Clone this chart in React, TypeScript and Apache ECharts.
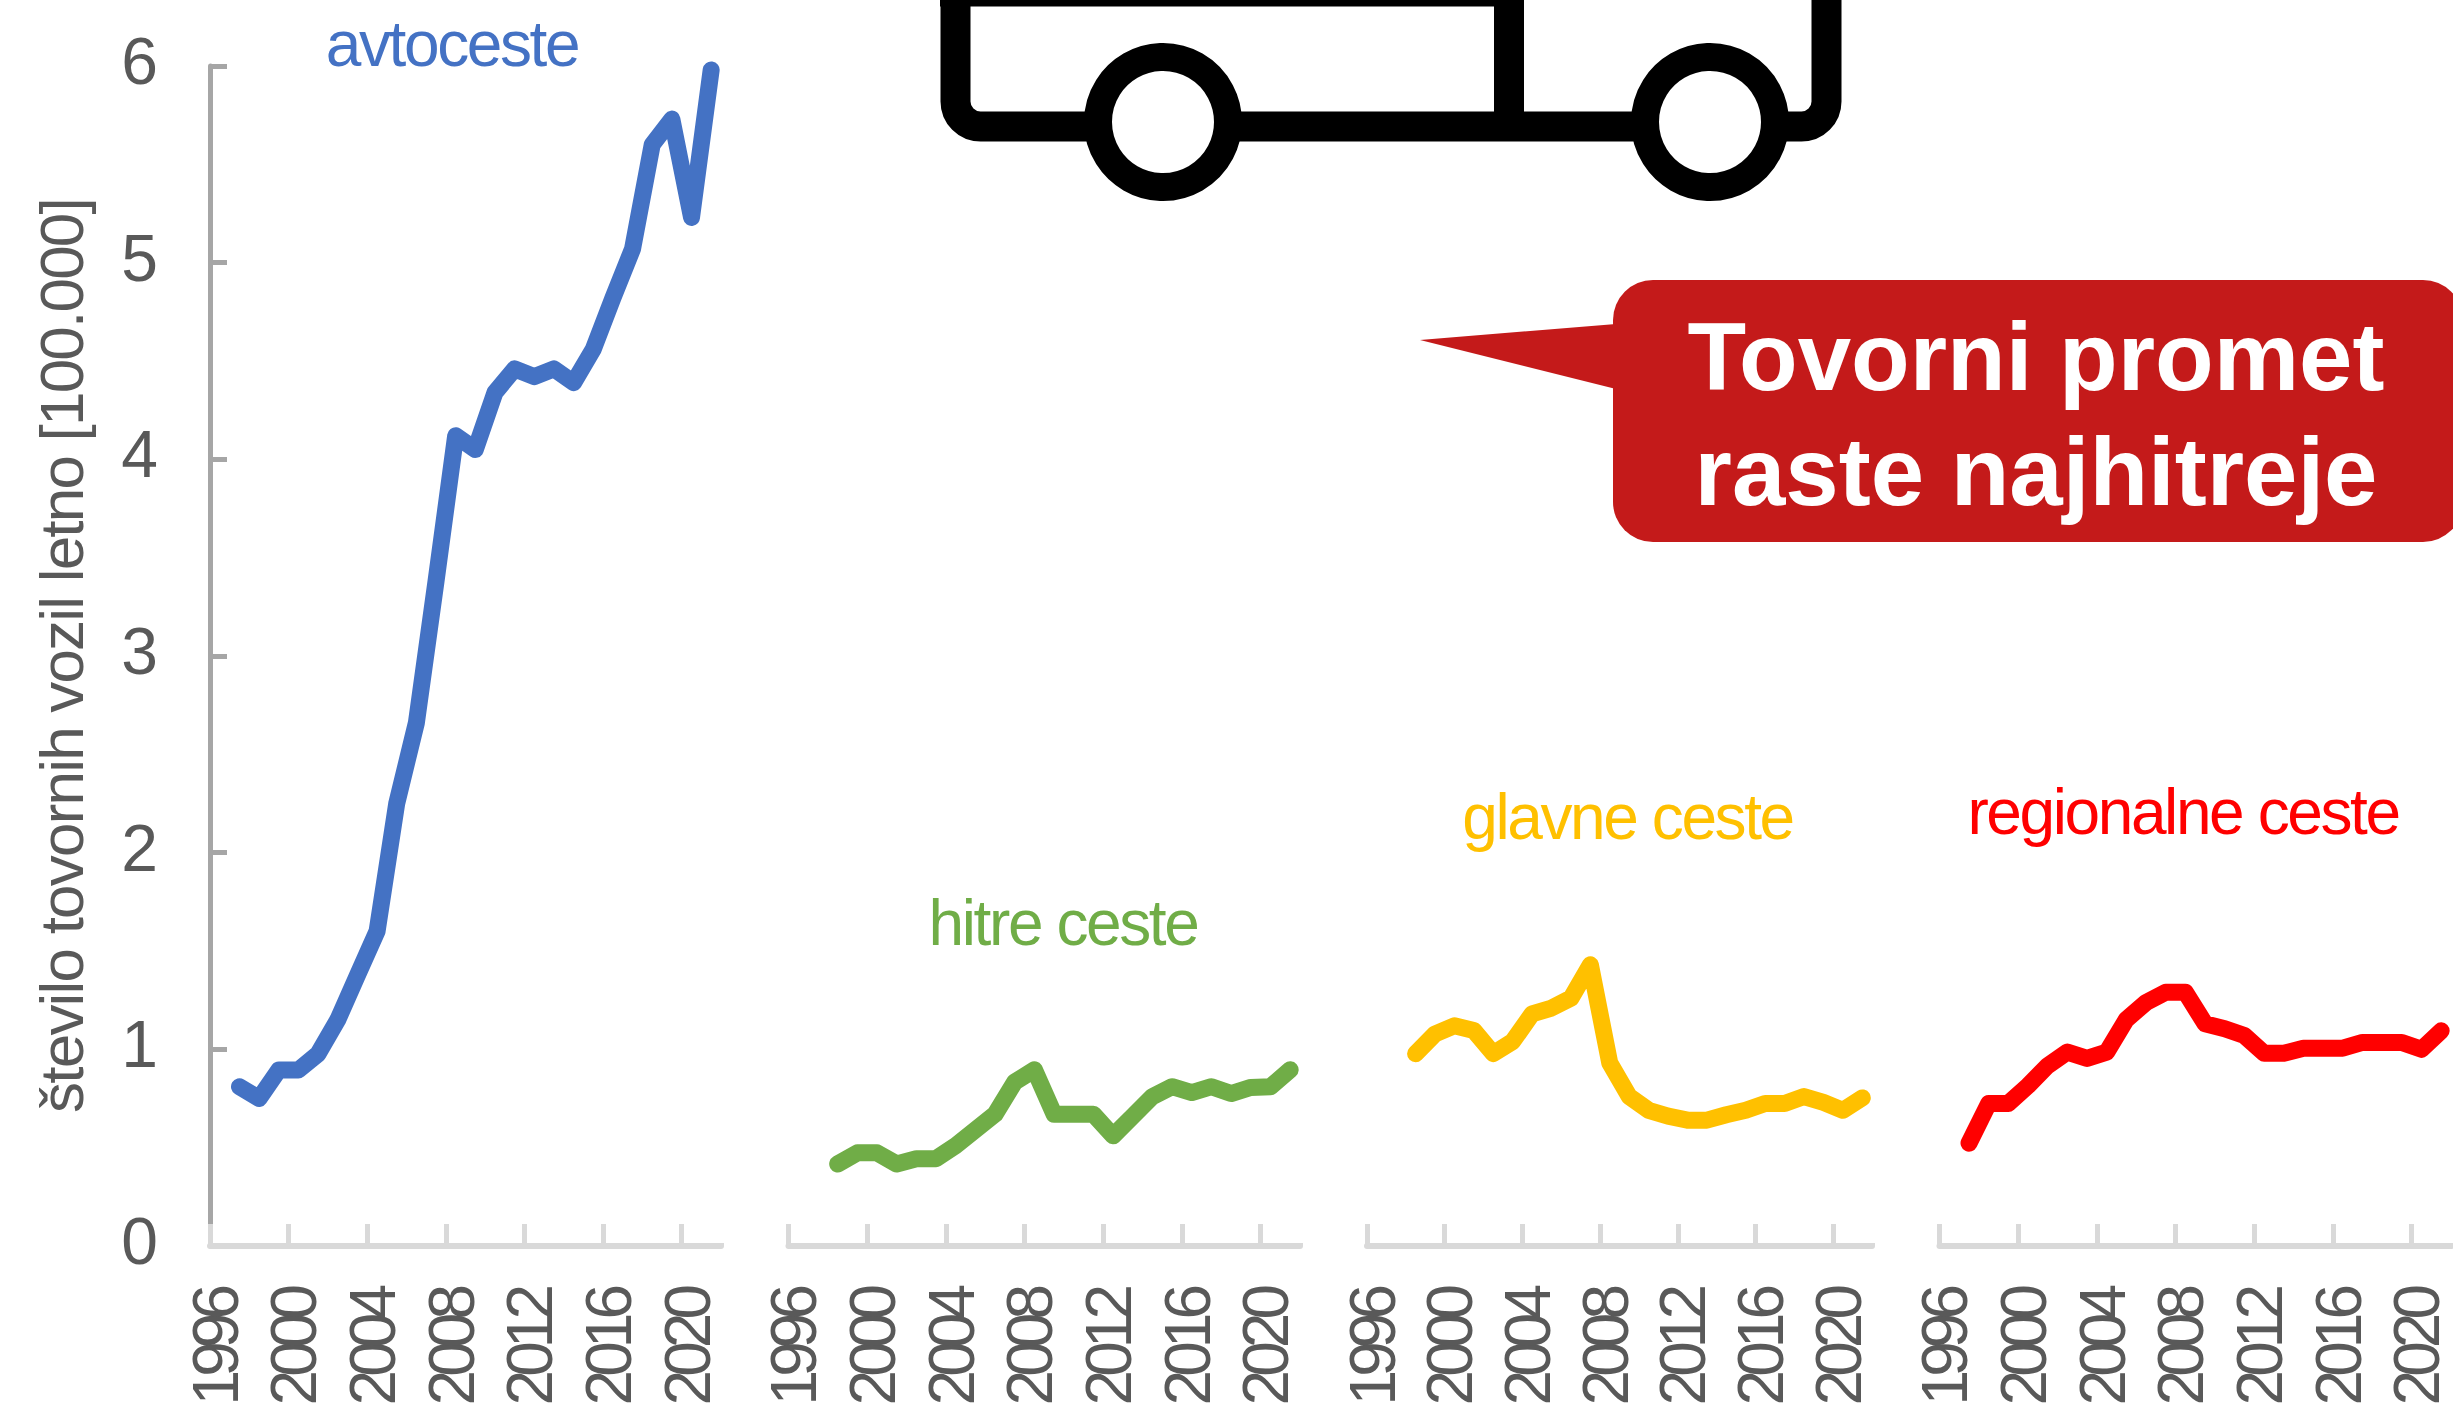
import React, { useEffect, useRef } from "react";
import * as echarts from "echarts";

const years = ["1996","1997","1998","1999","2000","2001","2002","2003","2004","2005","2006","2007","2008","2009","2010","2011","2012","2013","2014","2015","2016","2017","2018","2019","2020","2021"];
const yTicks = [0, 1, 2, 3, 4, 5, 6];
const yTitle = "število tovornih vozil letno [100.000]";

const avtoceste = [null,0.81,0.75,0.895,0.895,0.977,1.15,1.376,1.6,2.25,2.66,3.38,4.12,4.05,4.34,4.46,4.42,4.46,4.39,4.56,4.82,5.07,5.6,5.73,5.23,5.98];
const hitreCeste = [null,null,0.417,0.474,0.474,0.417,0.444,0.444,0.51,0.59,0.67,0.834,0.896,0.67,0.67,0.67,0.56,0.66,0.76,0.81,0.78,0.81,0.775,0.806,0.81,0.896];
const glavneCeste = [null,null,0.978,1.078,1.12,1.096,0.978,1.04,1.18,1.21,1.26,1.43,0.93,0.76,0.69,0.66,0.64,0.64,0.667,0.69,0.725,0.725,0.76,0.73,0.69,0.753];
const regionalneCeste = [null,0.523,0.725,0.725,0.815,0.917,0.986,0.954,0.986,1.152,1.238,1.29,1.29,1.13,1.105,1.07,0.98,0.98,1.006,1.006,1.006,1.035,1.035,1.035,1.0,1.094];

const panelNames = ["avtoceste", "hitre ceste", "glavne ceste", "regionalne ceste"];
const panelValues = [avtoceste, hitreCeste, glavneCeste, regionalneCeste];
const panelColors = ["#4472c4", "#70ad47", "#ffc000", "#ff0000"];
const panelLeft = [210, 788.5, 1367, 1939.5];
const panelRight = [721, 1300, 1872, 2451];
const titleX = [452, 1063, 1627.5, 2183];
const titleBase = [76, 955, 849, 844];
const calloutLines = ["Tovorni promet", "raste najhitreje"];

const FONT = "Liberation Sans";
const TOP = 66;
const AXIS_Y = 1246;
const GRAY = "#595959";

export default function App() {
  const ref = useRef<HTMLDivElement>(null);
  useEffect(() => {
    const chart = echarts.init(ref.current!, undefined, { renderer: "svg" });
    const grid = panelLeft.map((l, i) => ({
      left: l,
      top: TOP,
      width: panelRight[i] - l,
      height: AXIS_Y - TOP,
      containLabel: false,
      outerBoundsMode: "none",
    }));
    const xAxis = panelLeft.map((_, i) => ({
      type: "category",
      gridIndex: i,
      data: years,
      boundaryGap: true,
      z: 3,
      axisLine: { show: true, lineStyle: { color: "#d9d9d9", width: 6 } },
      axisTick: { show: true, inside: true, length: 22, interval: 3, lineStyle: { color: "#d9d9d9", width: 5 } },
      axisLabel: {
        show: true,
        interval: 3,
        rotate: 90,
        margin: 45,
        color: GRAY,
        fontFamily: FONT,
        fontSize: 64,
        hideOverlap: false,
        verticalAlign: "bottom",
        lineHeight: 8,
      },
      splitLine: { show: false },
    }));
    const yAxis = panelLeft.map((_, i) => ({
      type: "value",
      gridIndex: i,
      min: yTicks[0],
      max: yTicks[yTicks.length - 1],
      interval: 1,
      show: i === 0,
      z: 2,
      name: i === 0 ? yTitle : "",
      nameLocation: "middle",
      nameRotate: 90,
      nameGap: 118,
      nameTextStyle: { color: GRAY, fontFamily: FONT, fontSize: 62 },
      axisLine: { show: i === 0, lineStyle: { color: "#a6a6a6", width: 5 } },
      axisTick: { show: i === 0, inside: true, length: 17, lineStyle: { color: "#a6a6a6", width: 5 } },
      axisLabel: { show: i === 0, margin: 52, color: GRAY, fontFamily: FONT, fontSize: 66, verticalAlign: "bottom", lineHeight: 10 },
      splitLine: { show: false },
    }));
    const series = panelValues.map((v, i) => ({
      type: "line",
      name: panelNames[i],
      xAxisIndex: i,
      yAxisIndex: i,
      data: v,
      showSymbol: false,
      symbol: "none",
      clip: false,
      lineStyle: { color: panelColors[i], width: 17, cap: "round", join: "round" },
    }));

    const graphic: any[] = [];
    // covers the closing tick that ECharts adds at the end of a band axis
    panelRight.forEach((r) => {
      graphic.push({
        type: "rect",
        z: 50,
        shape: { x: r - 5, y: AXIS_Y - 28, width: 12, height: 25 },
        style: { fill: "#ffffff" },
      });
    });
    panelNames.forEach((n, i) => {
      graphic.push({
        type: "text",
        z: 60,
        x: titleX[i],
        y: titleBase[i],
        style: {
          text: n,
          fill: panelColors[i],
          font: `64px "${FONT}"`,
          textAlign: "center",
          textVerticalAlign: "bottom",
        },
      });
    });
    // truck
    graphic.push({
      type: "rect",
      z: 20,
      shape: { x: 955.5, y: -80, width: 871, height: 206.5, r: 25 },
      style: { fill: "#ffffff", stroke: "#000000", lineWidth: 30 },
    });
    graphic.push({
      type: "rect",
      z: 21,
      shape: { x: 1494, y: 0, width: 30, height: 120 },
      style: { fill: "#000000" },
    });
    graphic.push({
      type: "rect",
      z: 21,
      shape: { x: 940, y: 0, width: 584, height: 6.5 },
      style: { fill: "#000000" },
    });
    [1163, 1710].forEach((cx) => {
      graphic.push({
        type: "circle",
        z: 22,
        shape: { cx, cy: 122, r: 65 },
        style: { fill: "#ffffff", stroke: "#000000", lineWidth: 28 },
      });
    });
    // callout
    graphic.push({
      type: "polygon",
      z: 30,
      shape: { points: [[1420, 340], [1616, 324], [1616, 389]] },
      style: { fill: "#c41a1a" },
    });
    graphic.push({
      type: "rect",
      z: 31,
      shape: { x: 1613, y: 280, width: 850, height: 262, r: 40 },
      style: { fill: "#c41a1a" },
    });
    calloutLines.forEach((t, i) => {
      graphic.push({
        type: "text",
        z: 40,
        x: 2036,
        y: 356 + i * 115,
        style: {
          text: t,
          fill: "#ffffff",
          font: `bold 96px "${FONT}"`,
          textAlign: "center",
          textVerticalAlign: "middle",
        },
      });
    });

    chart.setOption({
      animation: false,
      backgroundColor: "#ffffff",
      grid,
      xAxis,
      yAxis,
      series,
      graphic,
    } as any);

    // the reference's texts are set tighter than their natural width
    ref.current!.querySelectorAll("text").forEach((el) => {
      const t = el.textContent || "";
      if (years.includes(t)) (el as any).style.letterSpacing = "-7px";
      else if (panelNames.includes(t)) (el as any).style.letterSpacing = "-2.4px";
      else if (t === yTitle) (el as any).style.letterSpacing = "-1.8px";
    });
    return () => chart.dispose();
  }, []);
  return <div ref={ref} style={{ position: "absolute", left: 0, top: 0, width: 2453, height: 1408 }} />;
}
